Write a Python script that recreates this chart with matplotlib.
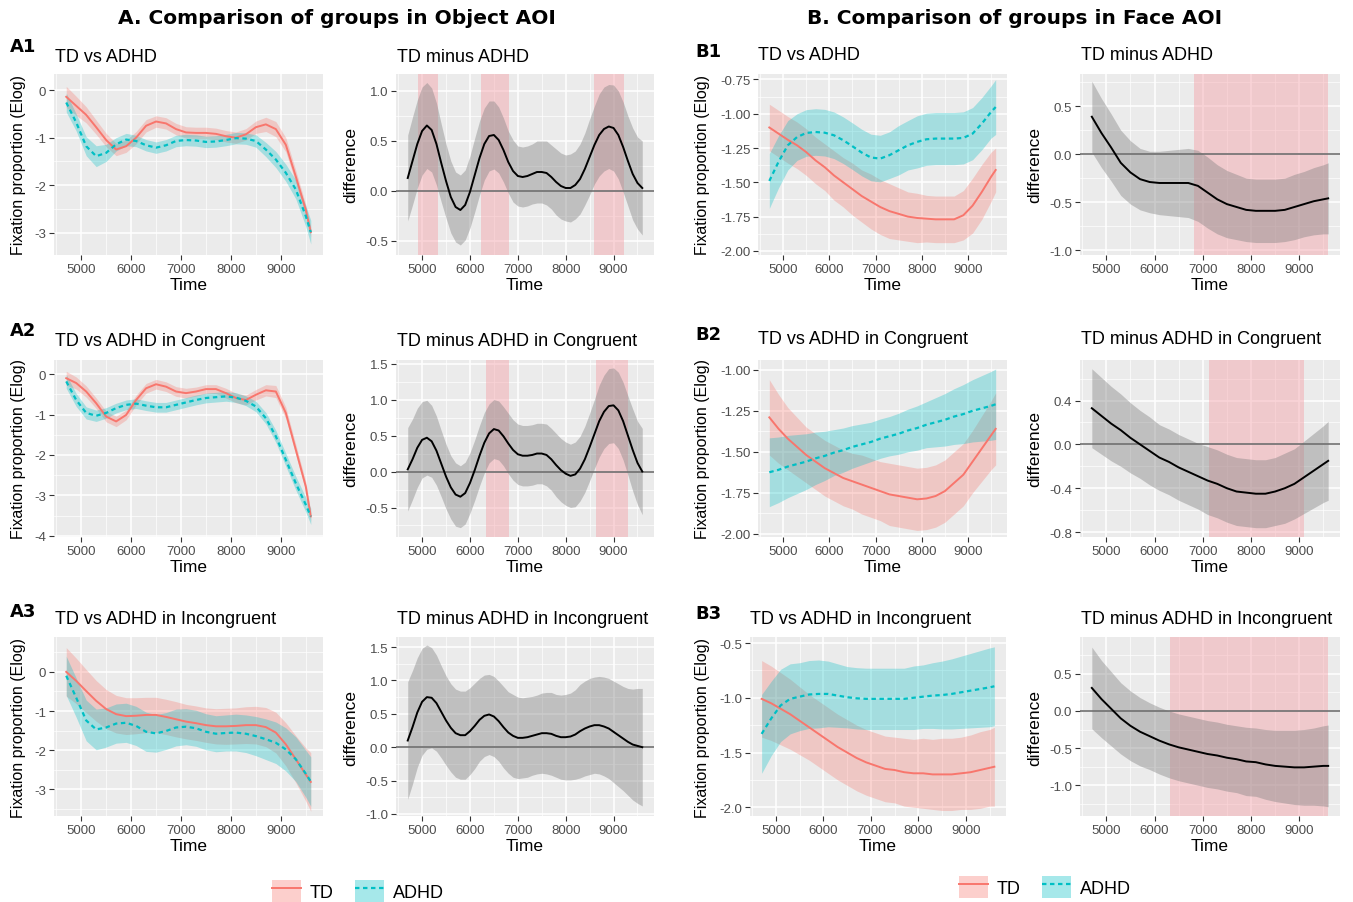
import matplotlib
matplotlib.use("Agg")
import matplotlib.pyplot as plt
import numpy as np
from matplotlib.patches import Patch
from matplotlib.lines import Line2D

plt.rcParams['font.family'] = ['Liberation Sans', 'DejaVu Sans']
plt.rcParams['axes.unicode_minus'] = False

# time bins (ms)
time = [4700, 4900, 5100, 5300, 5500, 5700, 5900, 6100, 6300, 6500, 6700, 6900, 7100,
        7300, 7500, 7700, 7900, 8100, 8300, 8500, 8700, 8900, 9100, 9300, 9500, 9600]
# finer bins for the wiggly object-AOI difference curves
time_fine = [4700, 4800, 4900, 5000, 5100, 5200, 5300, 5400, 5500, 5600, 5700, 5800, 5900,
             6000, 6100, 6200, 6300, 6400, 6500, 6600, 6700, 6800, 6900, 7000, 7100, 7200,
             7300, 7400, 7500, 7600, 7700, 7800, 7900, 8000, 8100, 8200, 8300, 8400, 8500,
             8600, 8700, 8800, 8900, 9000, 9100, 9200, 9300, 9400, 9500, 9600]

# ---- A. Object AOI ----
a1_td = [-0.14, -0.33, -0.52, -0.78, -1.05, -1.25, -1.18, -1.00, -0.75, -0.66, -0.70, -0.82, -0.89,
         -0.90, -0.90, -0.92, -0.97, -1.00, -0.93, -0.78, -0.72, -0.82, -1.15, -1.82, -2.52, -2.99]
a1_td_ci = [0.22, 0.2, 0.17, 0.15, 0.14, 0.13, 0.13, 0.13, 0.13, 0.12, 0.12, 0.12, 0.12,
            0.12, 0.12, 0.12, 0.12, 0.12, 0.12, 0.13, 0.15, 0.16, 0.15, 0.13, 0.11, 0.1]
a1_adhd = [-0.26, -0.68, -1.18, -1.39, -1.32, -1.14, -1.04, -1.07, -1.16, -1.21, -1.16, -1.07, -1.05,
           -1.06, -1.09, -1.08, -1.05, -1.01, -1.02, -1.07, -1.25, -1.46, -1.74, -2.09, -2.65, -2.99]
a1_adhd_ci = [0.2, 0.18, 0.2, 0.22, 0.18, 0.14, 0.13, 0.12, 0.12, 0.12, 0.12, 0.12, 0.12,
              0.12, 0.12, 0.12, 0.12, 0.12, 0.12, 0.13, 0.15, 0.17, 0.18, 0.2, 0.22, 0.25]
a1_diff = [0.13, 0.30, 0.47, 0.60, 0.655, 0.61, 0.47, 0.28, 0.10, -0.06, -0.16, -0.19, -0.14,
           -0.01, 0.16, 0.33, 0.47, 0.55, 0.56, 0.51, 0.41, 0.29, 0.20, 0.15, 0.14, 0.15,
           0.17, 0.19, 0.19, 0.18, 0.14, 0.09, 0.05, 0.03, 0.03, 0.06, 0.12, 0.22, 0.34,
           0.46, 0.56, 0.62, 0.645, 0.63, 0.56, 0.44, 0.30, 0.17, 0.08, 0.03]
a1_diff_ci = [0.43, 0.44, 0.44, 0.44, 0.43, 0.42, 0.41, 0.39, 0.37, 0.36, 0.35, 0.35, 0.35,
              0.36, 0.37, 0.37, 0.36, 0.35, 0.34, 0.33, 0.32, 0.31, 0.31, 0.30, 0.30, 0.30,
              0.30, 0.31, 0.31, 0.32, 0.32, 0.33, 0.33, 0.33, 0.34, 0.34, 0.35, 0.36, 0.38,
              0.39, 0.41, 0.42, 0.42, 0.43, 0.44, 0.45, 0.45, 0.46, 0.46, 0.47]
a1_sig = [(4920, 5340), (6230, 6815), (8600, 9215)]

a2_td = [-0.10, -0.22, -0.43, -0.72, -1.05, -1.17, -1.01, -0.64, -0.35, -0.25, -0.31, -0.43, -0.47,
         -0.43, -0.37, -0.37, -0.47, -0.59, -0.64, -0.51, -0.40, -0.43, -0.96, -1.87, -2.78, -3.52]
a2_td_ci = [0.17, 0.15, 0.14, 0.13, 0.13, 0.13, 0.12, 0.12, 0.12, 0.12, 0.12, 0.12, 0.12,
            0.11, 0.11, 0.11, 0.12, 0.12, 0.12, 0.13, 0.14, 0.15, 0.14, 0.13, 0.12, 0.12]
a2_adhd = [-0.18, -0.64, -0.96, -1.03, -0.96, -0.84, -0.76, -0.73, -0.78, -0.82, -0.82, -0.76, -0.70,
           -0.64, -0.59, -0.57, -0.55, -0.58, -0.66, -0.80, -1.09, -1.54, -2.12, -2.70, -3.23, -3.52]
a2_adhd_ci = [0.17, 0.16, 0.15, 0.14, 0.13, 0.12, 0.12, 0.12, 0.12, 0.12, 0.12, 0.12, 0.12,
              0.12, 0.12, 0.12, 0.12, 0.12, 0.12, 0.13, 0.14, 0.15, 0.16, 0.17, 0.18, 0.2]
a2_diff = [0.03, 0.17, 0.33, 0.44, 0.47, 0.42, 0.29, 0.11, -0.07, -0.22, -0.32, -0.35, -0.30,
           -0.16, 0.02, 0.22, 0.40, 0.53, 0.59, 0.57, 0.49, 0.39, 0.30, 0.24, 0.22, 0.22,
           0.23, 0.25, 0.25, 0.23, 0.17, 0.09, 0.02, -0.03, -0.06, -0.04, 0.04, 0.17, 0.34,
           0.52, 0.70, 0.83, 0.91, 0.92, 0.85, 0.70, 0.50, 0.30, 0.12, 0.0]
a2_diff_ci = [0.58, 0.56, 0.55, 0.53, 0.52, 0.50, 0.48, 0.46, 0.45, 0.44, 0.44, 0.43, 0.43,
              0.42, 0.42, 0.42, 0.42, 0.41, 0.41, 0.41, 0.41, 0.42, 0.42, 0.42, 0.42, 0.42,
              0.42, 0.42, 0.42, 0.43, 0.43, 0.44, 0.44, 0.44, 0.44, 0.45, 0.45, 0.46, 0.47,
              0.48, 0.50, 0.51, 0.52, 0.52, 0.53, 0.54, 0.55, 0.57, 0.58, 0.60]
a2_sig = [(6330, 6810), (8640, 9310)]

a3_td = [0.0, -0.23, -0.49, -0.74, -0.95, -1.08, -1.13, -1.12, -1.10, -1.10, -1.15, -1.21, -1.27,
         -1.31, -1.36, -1.39, -1.39, -1.38, -1.36, -1.36, -1.41, -1.55, -1.85, -2.23, -2.62, -2.81]
a3_td_ci = [0.62, 0.58, 0.55, 0.52, 0.5, 0.48, 0.47, 0.46, 0.45, 0.45, 0.45, 0.45, 0.44,
            0.44, 0.44, 0.45, 0.46, 0.46, 0.47, 0.48, 0.5, 0.52, 0.55, 0.6, 0.68, 0.75]
a3_adhd = [-0.10, -0.66, -1.24, -1.47, -1.42, -1.32, -1.30, -1.38, -1.53, -1.57, -1.51, -1.42, -1.40,
           -1.44, -1.53, -1.58, -1.56, -1.55, -1.58, -1.64, -1.72, -1.81, -1.98, -2.23, -2.60, -2.80]
a3_adhd_ci = [0.5, 0.5, 0.52, 0.52, 0.5, 0.5, 0.5, 0.5, 0.5, 0.48, 0.47, 0.47, 0.46,
              0.46, 0.46, 0.46, 0.46, 0.47, 0.48, 0.5, 0.52, 0.53, 0.55, 0.57, 0.6, 0.63]
a3_diff = [0.10, 0.30, 0.52, 0.68, 0.75, 0.74, 0.66, 0.53, 0.40, 0.29, 0.21, 0.18, 0.18,
           0.24, 0.32, 0.41, 0.47, 0.49, 0.46, 0.39, 0.30, 0.22, 0.17, 0.14, 0.14, 0.15,
           0.17, 0.19, 0.21, 0.21, 0.20, 0.17, 0.15, 0.15, 0.16, 0.19, 0.24, 0.28, 0.31,
           0.33, 0.33, 0.31, 0.28, 0.23, 0.18, 0.13, 0.08, 0.04, 0.02, 0.0]
a3_diff_ci = [0.88, 0.85, 0.82, 0.80, 0.78, 0.75, 0.72, 0.69, 0.67, 0.66, 0.66, 0.66, 0.66,
              0.65, 0.64, 0.62, 0.61, 0.60, 0.60, 0.60, 0.61, 0.61, 0.62, 0.61, 0.60, 0.60,
              0.59, 0.59, 0.60, 0.61, 0.62, 0.62, 0.63, 0.64, 0.65, 0.67, 0.70, 0.71, 0.72,
              0.72, 0.73, 0.74, 0.75, 0.76, 0.77, 0.78, 0.80, 0.83, 0.86, 0.88]
a3_sig = []

# ---- B. Face AOI ----
b1_td = [-1.10, -1.145, -1.19, -1.23, -1.28, -1.34, -1.39, -1.45, -1.50, -1.55, -1.60, -1.64, -1.68,
         -1.71, -1.73, -1.75, -1.76, -1.765, -1.77, -1.77, -1.77, -1.74, -1.67, -1.57, -1.46, -1.41]
b1_td_ci = [0.17, 0.17, 0.17, 0.17, 0.17, 0.17, 0.17, 0.18, 0.18, 0.19, 0.19, 0.2, 0.2,
            0.2, 0.19, 0.18, 0.18, 0.17, 0.17, 0.17, 0.17, 0.18, 0.2, 0.2, 0.18, 0.16]
b1_adhd = [-1.49, -1.35, -1.23, -1.17, -1.14, -1.133, -1.138, -1.157, -1.193, -1.237, -1.283, -1.319, -1.327,
           -1.302, -1.266, -1.23, -1.205, -1.186, -1.181, -1.181, -1.181, -1.176, -1.145, -1.072, -0.987, -0.951]
b1_adhd_ci = [0.2, 0.19, 0.18, 0.17, 0.17, 0.17, 0.17, 0.17, 0.17, 0.17, 0.17, 0.17, 0.17,
              0.17, 0.18, 0.18, 0.19, 0.19, 0.19, 0.19, 0.19, 0.19, 0.19, 0.19, 0.19, 0.2]
b1_diff = [0.39, 0.22, 0.07, -0.09, -0.19, -0.26, -0.29, -0.30, -0.30, -0.30, -0.30, -0.33, -0.40,
           -0.47, -0.52, -0.55, -0.58, -0.59, -0.59, -0.59, -0.58, -0.55, -0.52, -0.49, -0.47, -0.46]
b1_diff_ci = [0.37, 0.36, 0.35, 0.34, 0.33, 0.32, 0.32, 0.33, 0.34, 0.35, 0.36, 0.37, 0.37,
              0.36, 0.35, 0.34, 0.33, 0.33, 0.33, 0.33, 0.33, 0.34, 0.34, 0.35, 0.36, 0.37]
b1_sig = [(6820, 9590)]

b2_td = [-1.29, -1.36, -1.42, -1.47, -1.52, -1.56, -1.60, -1.63, -1.66, -1.68, -1.70, -1.72, -1.74,
         -1.76, -1.77, -1.78, -1.79, -1.785, -1.77, -1.74, -1.69, -1.64, -1.56, -1.48, -1.40, -1.36]
b2_td_ci = [0.23, 0.21, 0.19, 0.18, 0.17, 0.17, 0.17, 0.17, 0.17, 0.17, 0.18, 0.18, 0.18,
            0.19, 0.19, 0.19, 0.19, 0.19, 0.19, 0.19, 0.19, 0.19, 0.19, 0.2, 0.21, 0.22]
b2_adhd = [-1.625, -1.61, -1.59, -1.575, -1.56, -1.54, -1.525, -1.505, -1.49, -1.47, -1.455, -1.44, -1.42,
           -1.405, -1.39, -1.37, -1.355, -1.335, -1.32, -1.305, -1.285, -1.27, -1.25, -1.235, -1.22, -1.21]
b2_adhd_ci = [0.21, 0.2, 0.19, 0.18, 0.17, 0.16, 0.15, 0.14, 0.135, 0.13, 0.125, 0.12, 0.12,
              0.12, 0.125, 0.13, 0.135, 0.14, 0.15, 0.16, 0.17, 0.18, 0.19, 0.2, 0.21, 0.215]
b2_diff = [0.33, 0.26, 0.19, 0.13, 0.06, 0.0, -0.06, -0.12, -0.16, -0.21, -0.25, -0.29, -0.33,
           -0.36, -0.40, -0.43, -0.44, -0.45, -0.45, -0.43, -0.40, -0.36, -0.30, -0.24, -0.18, -0.15]
b2_diff_ci = [0.36, 0.35, 0.34, 0.33, 0.32, 0.31, 0.31, 0.3, 0.3, 0.3, 0.3, 0.3, 0.31,
              0.31, 0.31, 0.31, 0.31, 0.31, 0.31, 0.31, 0.32, 0.32, 0.33, 0.34, 0.35, 0.36]
b2_sig = [(7120, 9090)]

b3_td = [-1.01, -1.05, -1.10, -1.15, -1.21, -1.27, -1.33, -1.39, -1.45, -1.50, -1.55, -1.59, -1.62,
         -1.65, -1.66, -1.68, -1.69, -1.69, -1.70, -1.70, -1.70, -1.69, -1.68, -1.66, -1.64, -1.63]
b3_td_ci = [0.35, 0.34, 0.33, 0.32, 0.31, 0.3, 0.3, 0.3, 0.3, 0.3, 0.3, 0.3, 0.3,
            0.3, 0.3, 0.31, 0.31, 0.32, 0.32, 0.33, 0.33, 0.33, 0.34, 0.35, 0.35, 0.36]
b3_adhd = [-1.33, -1.19, -1.07, -1.01, -0.99, -0.97, -0.965, -0.965, -0.98, -0.995, -1.005, -1.01, -1.01,
           -1.01, -1.01, -1.01, -1.0, -0.99, -0.98, -0.975, -0.965, -0.95, -0.935, -0.92, -0.905, -0.895]
b3_adhd_ci = [0.36, 0.34, 0.33, 0.32, 0.31, 0.31, 0.31, 0.3, 0.29, 0.28, 0.28, 0.28, 0.28,
              0.28, 0.28, 0.28, 0.29, 0.29, 0.3, 0.31, 0.32, 0.33, 0.34, 0.35, 0.36, 0.36]
b3_diff = [0.31, 0.16, 0.03, -0.10, -0.20, -0.28, -0.34, -0.40, -0.45, -0.49, -0.52, -0.55, -0.58,
           -0.60, -0.63, -0.65, -0.68, -0.69, -0.72, -0.74, -0.75, -0.76, -0.76, -0.75, -0.74, -0.74]
b3_diff_ci = [0.55, 0.52, 0.5, 0.48, 0.47, 0.46, 0.45, 0.45, 0.45, 0.45, 0.45, 0.45, 0.45,
              0.45, 0.45, 0.45, 0.46, 0.46, 0.47, 0.48, 0.49, 0.5, 0.51, 0.52, 0.54, 0.55]
b3_sig = [(6320, 9590)]

RED = '#F8766D'
CYAN = '#00BFC4'
PINK = '#F4A0A8'

W, H = 1353, 903
fig = plt.figure(figsize=(W / 100, H / 100), dpi=100)


def px_rect(l, r, t, b):
    return [l / W, 1 - b / H, (r - l) / W, (b - t) / H]


def base_axes(rect_px, ylim, yticks, fmt, ylabel, ylab_x):
    l, r, t, b = rect_px
    ax = fig.add_axes(px_rect(l, r, t, b))
    ax.set_facecolor('#EBEBEB')
    for s in ax.spines.values():
        s.set_visible(False)
    ax.set_xlim(4455, 9845)
    ax.set_xticks([5000, 6000, 7000, 8000, 9000])
    ax.set_xticks([4500, 5500, 6500, 7500, 8500, 9500], minor=True)
    ax.set_yticks(yticks)
    ax.set_yticklabels([fmt.format(v) for v in yticks])
    step = yticks[1] - yticks[0]
    minors = [yticks[0] - step / 2] + [v + step / 2 for v in yticks]
    ax.set_yticks(minors, minor=True)
    ax.set_ylim(*ylim)
    ax.grid(which='major', color='white', lw=1.1)
    ax.grid(which='minor', color='white', lw=0.5)
    ax.set_axisbelow(True)
    ax.tick_params(which='major', length=3.5, width=0.8, color='#333333',
                   labelcolor='#4D4D4D', labelsize=9.5, pad=2)
    ax.tick_params(which='minor', length=0)
    ax.set_xlabel('Time', fontsize=12.5, labelpad=2)
    ax.set_ylabel(ylabel, fontsize=11.5, va='center')
    ax.yaxis.set_label_coords((ylab_x - l) / (r - l), 0.5)
    return ax


def group_panel(rect_px, ylim, yticks, fmt, td, td_ci, adhd, adhd_ci):
    ax = base_axes(rect_px, ylim, yticks, fmt, 'Fixation proportion (Elog)',
                   19 if rect_px[0] < 400 else 703)
    t = np.array(time)
    td, td_ci = np.array(td), np.array(td_ci)
    adhd, adhd_ci = np.array(adhd), np.array(adhd_ci)
    ax.fill_between(t, td - td_ci, td + td_ci, color=RED, alpha=0.3, lw=0)
    ax.fill_between(t, adhd - adhd_ci, adhd + adhd_ci, color=CYAN, alpha=0.3, lw=0)
    ax.plot(t, td, color=RED, lw=1.4)
    ax.plot(t, adhd, color=CYAN, lw=1.6, ls=(0, (2, 1.6)))
    return ax


def diff_panel(rect_px, ylim, yticks, fmt, tt, diff, ci, sig):
    ax = base_axes(rect_px, ylim, yticks, fmt, 'difference',
                   351 if rect_px[0] < 700 else 1035)
    ax.yaxis.label.set_fontsize(12.5)
    t = np.array(tt)
    d, c = np.array(diff), np.array(ci)
    for a, b in sig:
        ax.axvspan(a, b, color=PINK, alpha=0.45, lw=0)
    ax.fill_between(t, d - c, d + c, color='#7F7F7F', alpha=0.4, lw=0)
    ax.axhline(0, color='#6E6E6E', lw=1.2)
    ax.plot(t, d, color='black', lw=1.4)
    return ax


rows = [(75, 256), (361, 538), (638, 817)]
AL, AR = (54, 323), (396, 654)
BL, BR = (758, 1007), (1080, 1340)

# row 1
group_panel((*AL, *rows[0]), (-3.47, 0.34), [-3, -2, -1, 0], '{:g}', a1_td, a1_td_ci, a1_adhd, a1_adhd_ci)
diff_panel((*AR, *rows[0]), (-0.64, 1.17), [-0.5, 0.0, 0.5, 1.0], '{:.1f}',
           time_fine, a1_diff, a1_diff_ci, a1_sig)
group_panel((*BL, *rows[0]), (-2.03, -0.71), [-2.0, -1.75, -1.5, -1.25, -1.0, -0.75], '{:.2f}',
            b1_td, b1_td_ci, b1_adhd, b1_adhd_ci)
diff_panel((*BR, *rows[0]), (-1.05, 0.835), [-1.0, -0.5, 0.0, 0.5], '{:.1f}',
           time, b1_diff, b1_diff_ci, b1_sig)
# row 2
group_panel((*AL, *rows[1]), (-4.03, 0.35), [-4, -3, -2, -1, 0], '{:g}', a2_td, a2_td_ci, a2_adhd, a2_adhd_ci)
diff_panel((*AR, *rows[1]), (-0.91, 1.55), [-0.5, 0.0, 0.5, 1.0, 1.5], '{:.1f}',
           time_fine, a2_diff, a2_diff_ci, a2_sig)
group_panel((*BL, *rows[1]), (-2.02, -0.94), [-2.0, -1.75, -1.5, -1.25, -1.0], '{:.2f}',
            b2_td, b2_td_ci, b2_adhd, b2_adhd_ci)
diff_panel((*BR, *rows[1]), (-0.845, 0.77), [-0.8, -0.4, 0.0, 0.4], '{:.1f}',
           time, b2_diff, b2_diff_ci, b2_sig)
# row 3
group_panel((*AL, *rows[2]), (-3.68, 0.89), [-3, -2, -1, 0], '{:g}', a3_td, a3_td_ci, a3_adhd, a3_adhd_ci)
diff_panel((*AR, *rows[2]), (-1.03, 1.65), [-1.0, -0.5, 0.0, 0.5, 1.0, 1.5], '{:.1f}',
           time_fine, a3_diff, a3_diff_ci, a3_sig)
group_panel((750, 1006, *rows[2]), (-2.08, -0.445), [-2.0, -1.5, -1.0, -0.5], '{:.1f}',
            b3_td, b3_td_ci, b3_adhd, b3_adhd_ci)
diff_panel((*BR, *rows[2]), (-1.415, 0.996), [-1.0, -0.5, 0.0, 0.5], '{:.1f}',
           time, b3_diff, b3_diff_ci, b3_sig)


def ftext(x, y, s, **kw):
    fig.text(x / W, 1 - y / H, s, **kw)


# headers
ftext(337, 18, 'A. Comparison of groups in Object AOI', ha='center', va='center',
      fontsize=14.5, fontweight='bold', family='DejaVu Sans')
ftext(1015, 18, 'B. Comparison of groups in Face AOI', ha='center', va='center',
      fontsize=14.5, fontweight='bold', family='DejaVu Sans')

for lab, x, y in [('A1', 10, 47), ('A2', 10, 331), ('A3', 10, 612),
                  ('B1', 695, 52), ('B2', 695, 335), ('B3', 695, 614)]:
    ftext(x, y, lab, ha='left', va='center', fontsize=13, fontweight='bold', family='DejaVu Sans')

titles = [
    (55, 57, 'TD vs ADHD'), (397, 57, 'TD minus ADHD'),
    (758, 55, 'TD vs ADHD'), (1081, 55, 'TD minus ADHD'),
    (55, 342, 'TD vs ADHD in Congruent'), (397, 342, 'TD minus ADHD in Congruent'),
    (758, 340, 'TD vs ADHD in Congruent'), (1081, 340, 'TD minus ADHD in Congruent'),
    (55, 620, 'TD vs ADHD in Incongruent'), (397, 620, 'TD minus ADHD in Incongruent'),
    (750, 620, 'TD vs ADHD in Incongruent'), (1081, 620, 'TD minus ADHD in Incongruent'),
]
for x, y, s in titles:
    ftext(x, y, s, ha='left', va='center', fontsize=13)

# legends
td_h = (Patch(facecolor=RED, alpha=0.35, lw=0), Line2D([], [], color=RED, lw=1.4))
adhd_h = (Patch(facecolor=CYAN, alpha=0.35, lw=0), Line2D([], [], color=CYAN, lw=1.6, ls=(0, (2, 1.6))))
for cx, cy in [(358, 892), (1045, 888)]:
    fig.legend([td_h, adhd_h], ['TD', 'ADHD'], loc='center', bbox_to_anchor=(cx / W, 1 - cy / H),
               ncol=2, frameon=False, fontsize=13, handlelength=1.6, handleheight=1.5,
               columnspacing=1.2, handletextpad=0.5)

fig.savefig('out.png', dpi=100)
